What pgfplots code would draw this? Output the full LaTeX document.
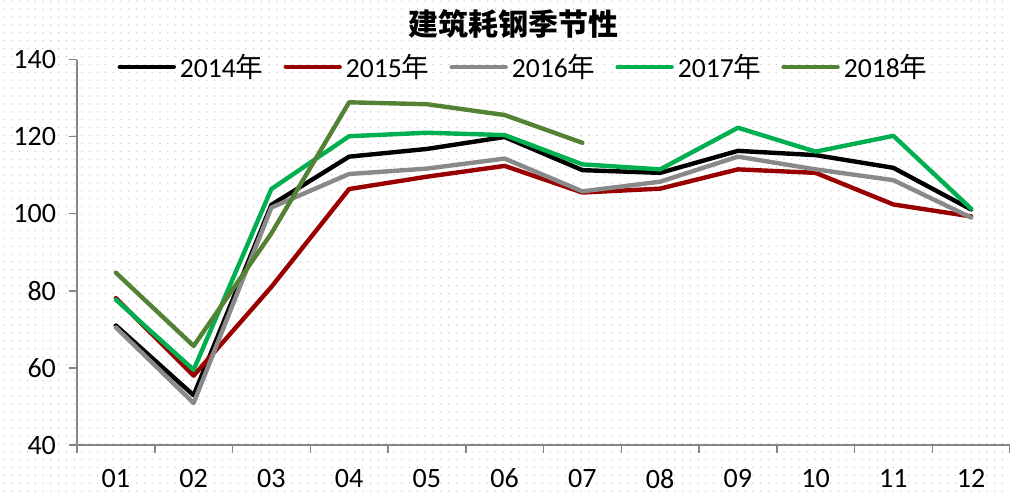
\documentclass[border=0pt]{standalone}
\usepackage{fontspec}
\setmainfont{Carlito}
\newfontfamily\cjk{Noto Sans CJK SC}
\usepackage{pgfplots}
\pgfplotsset{compat=1.18}

\definecolor{c14}{RGB}{0,0,0}
\definecolor{c15}{RGB}{153,0,0}
\definecolor{c16}{RGB}{137,137,137}
\definecolor{c17}{RGB}{0,176,80}
\definecolor{c18}{RGB}{84,130,53}
\definecolor{axgray}{RGB}{134,134,134}
\definecolor{dotgray}{RGB}{200,200,200}

\begin{document}
\begin{tikzpicture}
% dotted chart background
\foreach \r in {0,...,62}{
  \draw[dotgray, line width=0.75pt, line cap=round, dash pattern=on 0pt off 3.9pt]
    (-36.5pt,{-23pt+\r*3.95pt}) -- (466.5pt,{-23pt+\r*3.95pt});
}
\begin{axis}[
    at={(0,0)}, anchor=south west,
    width=466.5pt, height=192.75pt, scale only axis,
    xmin=0.5, xmax=12.5, ymin=40, ymax=140,
    axis x line*=bottom, axis y line*=left,
    axis line style={axgray, line width=0.75pt, -},
    tick align=outside, major tick length=4pt,
    tick style={axgray, line width=0.75pt},
    ytick={40,60,...,140},
    xtick={0.5,1.5,...,12.5},
    x tick label as interval,
    xticklabels={01,02,03,04,05,06,07,08,09,10,11,12},
    ticklabel style={font=\fontsize{14}{16}\selectfont, black},
    xticklabel style={yshift=-4.5pt},
    yticklabel style={xshift=-3pt},
    /pgf/number format/assume math mode=true,
    legend columns=5,
    legend style={at={(0.4796,0.9805)}, anchor=center, draw=none, fill=none,
        font=\fontsize{13.8}{16}\selectfont,
        /tikz/every even column/.append style={column sep=8pt}},
    legend image code/.code={\draw[#1] (0pt,0pt) -- (27pt,0pt);},
    every axis plot/.append style={line width=2.2pt, line join=round, line cap=round},
]
\addplot[c14] coordinates {
  (1,71.0) (2,52.9) (3,102.3) (4,114.8) (5,116.8) (6,119.9)
  (7,111.3) (8,110.6) (9,116.3) (10,115.2) (11,111.9) (12,101.1)};
\addplot[c15] coordinates {
  (1,78.1) (2,58.0) (3,81.0) (4,106.4) (5,109.6) (6,112.4)
  (7,105.5) (8,106.5) (9,111.5) (10,110.6) (11,102.4) (12,99.3)};
\addplot[c16] coordinates {
  (1,70.5) (2,50.9) (3,101.6) (4,110.3) (5,111.7) (6,114.3)
  (7,105.8) (8,108.3) (9,114.8) (10,111.5) (11,108.7) (12,99.0)};
\addplot[c17] coordinates {
  (1,77.7) (2,59.5) (3,106.4) (4,120.1) (5,121.0) (6,120.4)
  (7,112.8) (8,111.5) (9,122.3) (10,116.1) (11,120.2) (12,101.3)};
\addplot[c18] coordinates {
  (1,84.7) (2,65.7) (3,94.9) (4,128.9) (5,128.4) (6,125.6) (7,118.4)};
\legend{2014{\cjk 年},2015{\cjk 年},2016{\cjk 年},2017{\cjk 年},2018{\cjk 年}}
\end{axis}
\node[font=\cjk\bfseries\fontsize{15}{18}\selectfont] at (218pt,210.5pt) {建筑耗钢季节性};
\pgfresetboundingbox
\path[use as bounding box] (-38.5pt,-25pt) rectangle (466.5pt,222.5pt);
\end{tikzpicture}
\end{document}
